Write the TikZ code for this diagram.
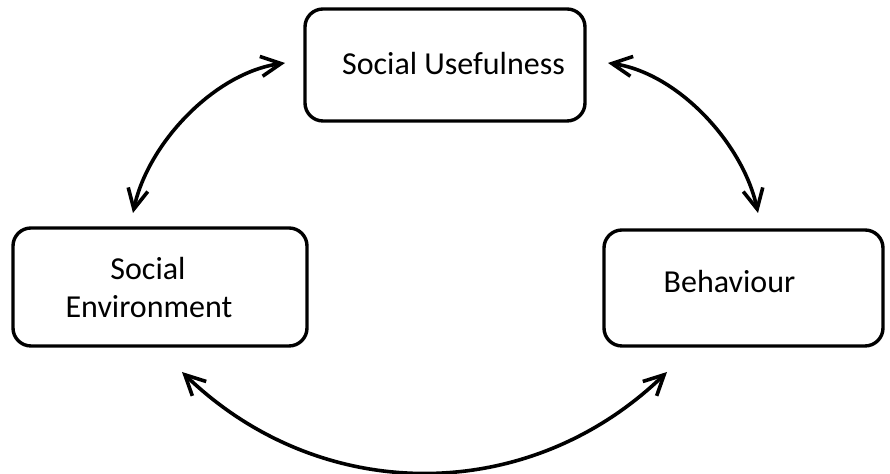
\documentclass[tikz,border=0pt]{standalone}
\usepackage{fontspec}
\setmainfont{Carlito}
\usetikzlibrary{arrows.meta}
\begin{document}
\begin{tikzpicture}[x=0.5pt,y=0.5pt,
  box/.style={draw,line width=1.7pt,rounded corners=9pt,inner sep=0pt},
  lbl/.style={font=\fontsize{16}{19}\selectfont,inner sep=0pt,anchor=base},
  link/.style={line width=1.8pt,{Straight Barb[length=10pt,width=10pt,line width=1.8pt]}-{Straight Barb[length=10pt,width=10pt,line width=1.8pt]}}]
\useasboundingbox (0,0) rectangle (890,474);
\node[box,minimum width=140pt,minimum height=56pt] (su) at (445,409) {};
\node[box,minimum width=147pt,minimum height=59pt] (se) at (160,187) {};
\node[box,minimum width=139.5pt,minimum height=58pt] (be) at (743.5,186) {};
\node[lbl] (sut) at (453.5,399) {Social Usefulness};
\node[lbl] (set1) at (148,194) {Social};
\node[lbl] (set2) at (149,156) {Environment};
\node[lbl] (bet) at (729.5,181) {Behaviour};
\coordinate (a1) at (133,261);
\coordinate (b1) at (285,411);
\coordinate (c2) at (608,411);
\coordinate (d2) at (758,261);
\coordinate (e3) at (182,102);
\coordinate (f3) at (667,102);
\draw[link] (a1) to[out=78,in=188,looseness=0.85] (b1);
\draw[link] (c2) to[out=-8,in=102,looseness=0.85] (d2);
\draw[link] (e3) to[out=-44,in=-136,looseness=1.02] (f3);
\end{tikzpicture}
\end{document}
